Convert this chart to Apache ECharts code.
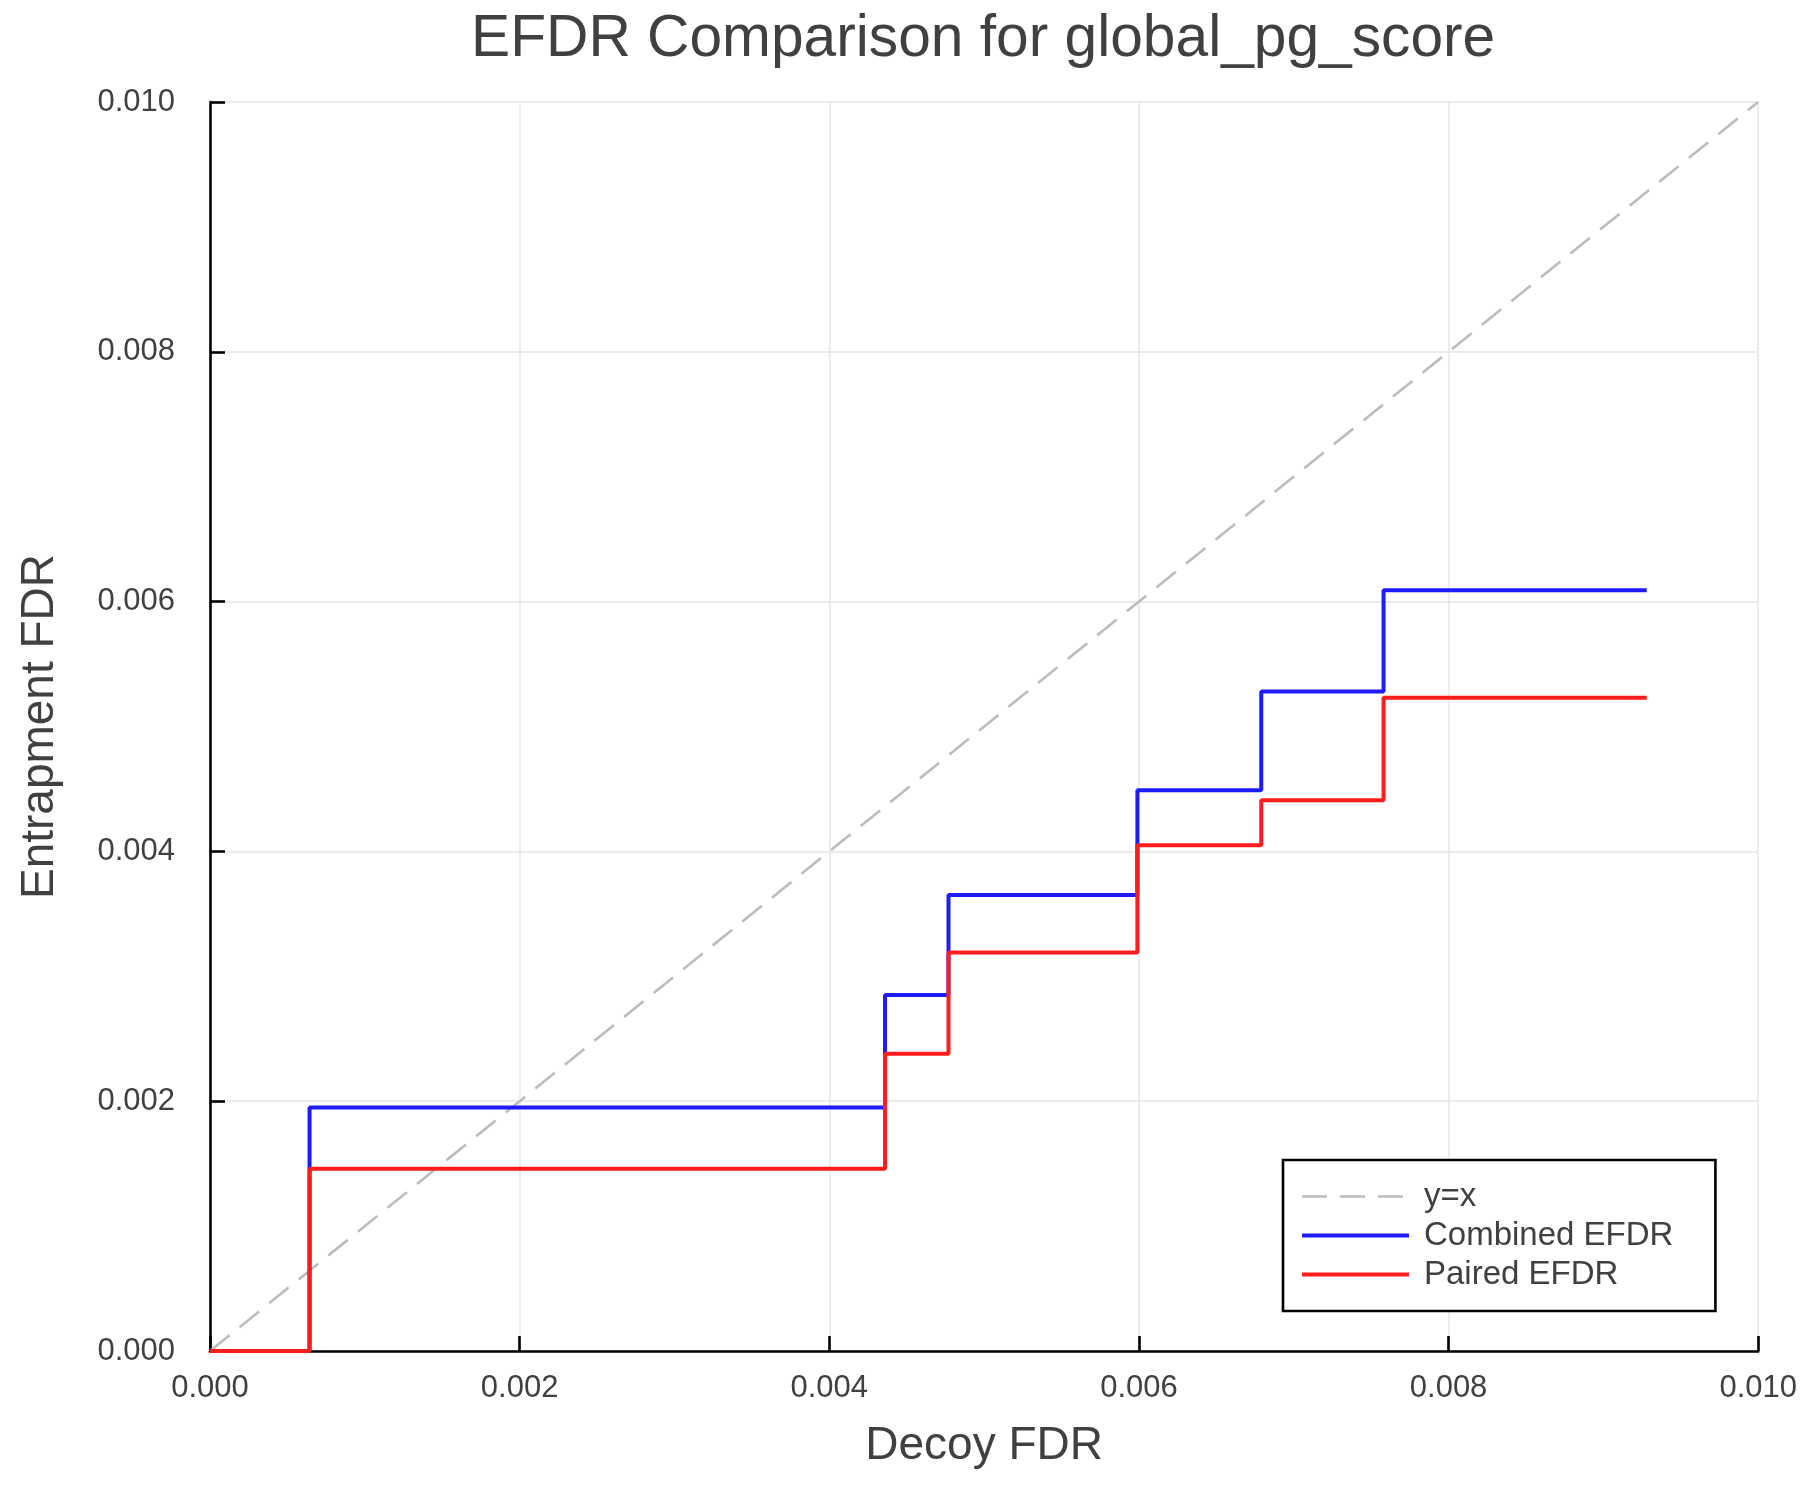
<!DOCTYPE html>
<html>
<head>
<meta charset="utf-8">
<script src="https://cdn.jsdelivr.net/npm/echarts@6/dist/echarts.min.js"></script>
<style>
html,body{margin:0;padding:0;background:#fff;overflow:hidden;}
#chart{width:1800px;height:1500px;}
</style>
</head>
<body>
<div id="chart"></div>
<script>
// ---- data ----
const titleText = 'EFDR Comparison for global_pg_score';
const xName = 'Decoy FDR';
const yName = 'Entrapment FDR';
const decoyFdr = [0, 0.000643, 0.00436, 0.00477, 0.00599, 0.00679, 0.00758, 0.00928];
const combinedEfdr = [0, 0.00195, 0.00285, 0.00365, 0.00449, 0.00528, 0.00609, 0.00609];
const pairedEfdr = [0, 0.00146, 0.00238, 0.00319, 0.00405, 0.00441, 0.00523, 0.00523];
const diagX = [0, 0.01];
const diagY = [0, 0.01];
const seriesNames = ['y=x', 'Combined EFDR', 'Paired EFDR'];
const axisMin = 0, axisMax = 0.01, axisStep = 0.002;

const pairs = (xs, ys) => xs.map((x, i) => [x, ys[i]]);
const textColor = '#404040';
const font = 'Liberation Sans';
const diagStyle = { color: '#bcbcbc', width: 2.6, type: [25, 13] };
const blueStyle = { color: '#1c1cff', width: 4 };
const redStyle = { color: '#ff1c1c', width: 4 };

const chart = echarts.init(document.getElementById('chart'));
const axisCommon = {
  type: 'value', min: axisMin, max: axisMax, interval: axisStep,
  axisLine: { show: true, onZero: false, lineStyle: { color: '#000', width: 2.6 } },
  axisTick: { show: true, inside: true, length: 15, lineStyle: { color: '#000', width: 2.6 } },
  splitLine: { show: true, lineStyle: { color: '#e6e6e6', width: 1.5 } },
  nameLocation: 'middle',
  nameTextStyle: { fontFamily: font, fontSize: 46, color: textColor },
};
chart.setOption({
  backgroundColor: '#fff',
  animation: false,
  title: {
    text: titleText, left: 466, top: 5,
    textStyle: { fontFamily: font, fontSize: 58.7, fontWeight: 'normal', color: textColor }
  },
  grid: { left: 210, right: 34, top: 102, bottom: 149, containLabel: false },
  xAxis: Object.assign({}, axisCommon, {
    name: xName, nameGap: 72,
    axisLabel: { margin: 22, fontFamily: font, fontSize: 31, color: textColor,
      formatter: v => v.toFixed(3) }
  }),
  yAxis: Object.assign({}, axisCommon, {
    name: yName, nameGap: 147, nameRotate: 90,
    axisLabel: { margin: 35, fontFamily: font, fontSize: 31, color: textColor,
      formatter: v => v.toFixed(3) }
  }),
  legend: {
    show: true,
    orient: 'vertical', left: 1283, top: 1160,
    padding: [20, 42, 20, 17],
    itemWidth: 107, itemHeight: 20, itemGap: 6,
    borderColor: '#000', borderWidth: 2.6,
    backgroundColor: '#fff',
    itemStyle: { opacity: 0 },
    textStyle: { fontFamily: font, fontSize: 33, color: textColor, padding: [0, 0, 0, 10] },
    data: [
      { name: seriesNames[0], lineStyle: diagStyle },
      { name: seriesNames[1], lineStyle: blueStyle },
      { name: seriesNames[2], lineStyle: redStyle }
    ]
  },
  series: [
    {
      name: seriesNames[0], type: 'line', data: pairs(diagX, diagY),
      symbol: 'none', clip: false,
      lineStyle: diagStyle,
      itemStyle: { color: diagStyle.color }
    },
    {
      name: seriesNames[1], type: 'line', step: 'end', data: pairs(decoyFdr, combinedEfdr),
      symbol: 'none', clip: false,
      lineStyle: blueStyle,
      itemStyle: { color: blueStyle.color }
    },
    {
      name: seriesNames[2], type: 'line', step: 'end', data: pairs(decoyFdr, pairedEfdr),
      symbol: 'none', clip: false,
      lineStyle: redStyle,
      itemStyle: { color: redStyle.color }
    }
  ]
});
</script>
</body>
</html>
